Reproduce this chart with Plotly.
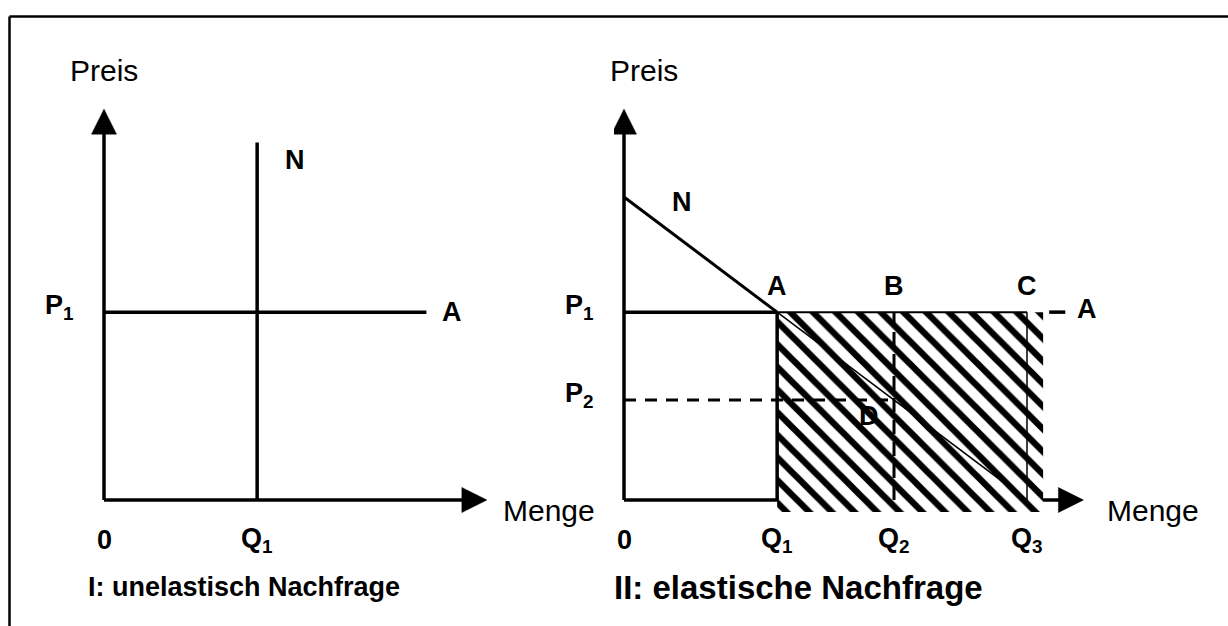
import plotly.graph_objects as go

# economic values, same scale in both panels
q_values = [0, 3.8, 6.7, 10.0]  # 0, Q1, Q2, Q3
q_labels = ["0", "Q<sub>1</sub>", "Q<sub>2</sub>", "Q<sub>3</sub>"]
p_values = [6.2, 3.3]  # P1, P2
p_labels = ["P<sub>1</sub>", "P<sub>2</sub>"]
demand_intercept = 10.0  # N in panel II: P = 10 - Q
inelastic_top = 11.8  # top of vertical N in panel I
supply_end = 8.0  # end of A line in panel I
price_axis_end = 12.9
qty_axis_end = [9.5, 11.4]  # panel I, panel II
hatch_right = 10.4
hatch_bottom = -0.4
supply_stub = [10.55, 10.95]

# pixels per unit
SX = 40.3
SY = 30.3
W, H = 1228, 626
FONT = "Liberation Sans, Arial, sans-serif"

Q0, Q1, Q2, Q3 = q_values
P1, P2 = p_values

fig = go.Figure()


def line(xref, xs, ys, width=3.5, dash="solid"):
    fig.add_trace(go.Scatter(
        x=xs, y=ys, mode="lines", xaxis=xref, yaxis="y",
        line=dict(color="black", width=width, dash=dash),
        hoverinfo="skip", showlegend=False,
    ))


def head(xref, x, y, direction, length=25, half=12.5):
    # filled triangle arrow head, tip at (x, y)
    if direction == "up":
        xs = [x - half / SX, x + half / SX, x, x - half / SX]
        ys = [y - length / SY, y - length / SY, y, y - length / SY]
    else:
        xs = [x - length / SX, x - length / SX, x, x - length / SX]
        ys = [y - half / SY, y + half / SY, y, y - half / SY]
    fig.add_trace(go.Scatter(
        x=xs, y=ys, mode="lines", fill="toself", fillcolor="black",
        line=dict(color="black", width=0.5), xaxis=xref, yaxis="y",
        hoverinfo="skip", showlegend=False,
    ))


annotations = []


def label(xref, x, y, text, size=27, bold=True, xanchor="center",
          yanchor="middle", xshift=0, yshift=0):
    annotations.append(dict(
        xref=xref, yref="y", x=x, y=y,
        text="<b>" + text + "</b>" if bold else text,
        showarrow=False, xanchor=xanchor, yanchor=yanchor,
        xshift=xshift, yshift=yshift,
        font=dict(family=FONT, size=size, color="black"),
    ))


# ---------- panel I: inelastic demand ----------
line("x", [0, 0], [0, price_axis_end - 20 / SY])
head("x", 0, price_axis_end, "up")
line("x", [0, qty_axis_end[0] - 20 / SX], [0, 0])
head("x", qty_axis_end[0], 0, "right")
line("x", [0, supply_end], [P1, P1])
line("x", [Q1, Q1], [0, inelastic_top])

label("x", 0, price_axis_end, "Preis", size=30, bold=False, yshift=39)
label("x", qty_axis_end[0], 0, "Menge", size=30, bold=False,
      xanchor="left", xshift=14, yshift=-10)
label("x", Q0, 0, q_labels[0], yshift=-40)
label("x", Q1, 0, q_labels[1], yshift=-40)
label("x", 0, P1, p_labels[0], xanchor="right", xshift=-28, yshift=5)
label("x", supply_end, P1, "A", xanchor="left", xshift=14)
label("x", Q1, inelastic_top, "N", xanchor="left", xshift=26, yshift=-18)
label("x", 0, 0, "I: unelastisch Nachfrage", xanchor="left",
      xshift=-18, yshift=-87)

# ---------- panel II: elastic demand ----------
line("x2", [0, 0], [0, price_axis_end - 20 / SY])
head("x2", 0, price_axis_end, "up")
line("x2", [0, qty_axis_end[1] - 20 / SX], [0, 0])
head("x2", qty_axis_end[1], 0, "right")

# hatched revenue area
fig.add_trace(go.Scatter(
    x=[Q1, hatch_right, hatch_right, Q1, Q1],
    y=[P1, P1, hatch_bottom, hatch_bottom, P1],
    mode="lines", fill="toself", xaxis="x2", yaxis="y",
    line=dict(color="rgba(0,0,0,0)", width=0),
    fillcolor="white",
    fillpattern=dict(shape="\\", size=16, solidity=0.4,
                     fgcolor="black", fgopacity=1, bgcolor="white"),
    hoverinfo="skip", showlegend=False,
))

line("x2", [0, Q1], [P1, P1])
line("x2", [Q1, Q3], [P1, P1], width=2)
line("x2", supply_stub, [P1, P1])
line("x2", [Q1, Q1], [0, P1])
line("x2", [Q2, Q2], [0, P1], width=3, dash="14px,8px")
line("x2", [Q3, Q3], [0, P1], width=1.5)
line("x2", [0, Q2], [P2, P2], width=3, dash="12px,9px")
line("x2", [0, Q1], [demand_intercept, P1], width=3)
line("x2", [Q1, Q3], [P1, 0], width=1.5)

label("x2", 0, price_axis_end, "Preis", size=30, bold=False,
      xshift=20, yshift=39)
label("x2", qty_axis_end[1], 0, "Menge", size=30, bold=False,
      xanchor="left", xshift=22, yshift=-10)
for qv, ql in zip(q_values, q_labels):
    label("x2", qv, 0, ql, yshift=-40)
for pv, pl in zip(p_values, p_labels):
    label("x2", 0, pv, pl, xanchor="right", xshift=-28, yshift=5)
label("x2", 0, demand_intercept, "N", xshift=58, yshift=-5)
label("x2", Q1, P1, "A", yshift=26)
label("x2", Q2, P1, "B", yshift=26)
label("x2", Q3, P1, "C", yshift=26)
label("x2", supply_stub[1], P1, "A", xanchor="left", xshift=10, yshift=3)
label("x2", Q2, P2, "D", xshift=-25, yshift=-16)
label("x2", 0, 0, "II: elastische Nachfrage", size=33, xanchor="left",
      xshift=-12, yshift=-87)

# outer frame (top and left edges visible)
fx = 9.5 / W
fy = 1 - 16.5 / H
shapes = [
    dict(type="line", xref="paper", yref="paper", x0=fx, x1=1, y0=fy, y1=fy,
         line=dict(color="black", width=2.5)),
    dict(type="line", xref="paper", yref="paper", x0=fx, x1=fx, y0=0, y1=fy,
         line=dict(color="black", width=2.5)),
]

split = 614
ax = dict(visible=False, fixedrange=True)
fig.update_layout(
    width=W, height=H,
    margin=dict(l=0, r=0, t=0, b=0),
    paper_bgcolor="white", plot_bgcolor="white",
    xaxis=dict(ax, domain=[0, split / W], range=[-104 / SX, (split - 104) / SX]),
    xaxis2=dict(ax, domain=[split / W, 1], range=[-(624 - split) / SX, (W - 624) / SX]),
    yaxis=dict(ax, domain=[0, 1], range=[-(H - 500) / SY, 500 / SY]),
    annotations=annotations,
    shapes=shapes,
    showlegend=False,
)

fig.write_html("out.html", config={"displayModeBar": False},
               post_script="document.body.style.margin='0';")
